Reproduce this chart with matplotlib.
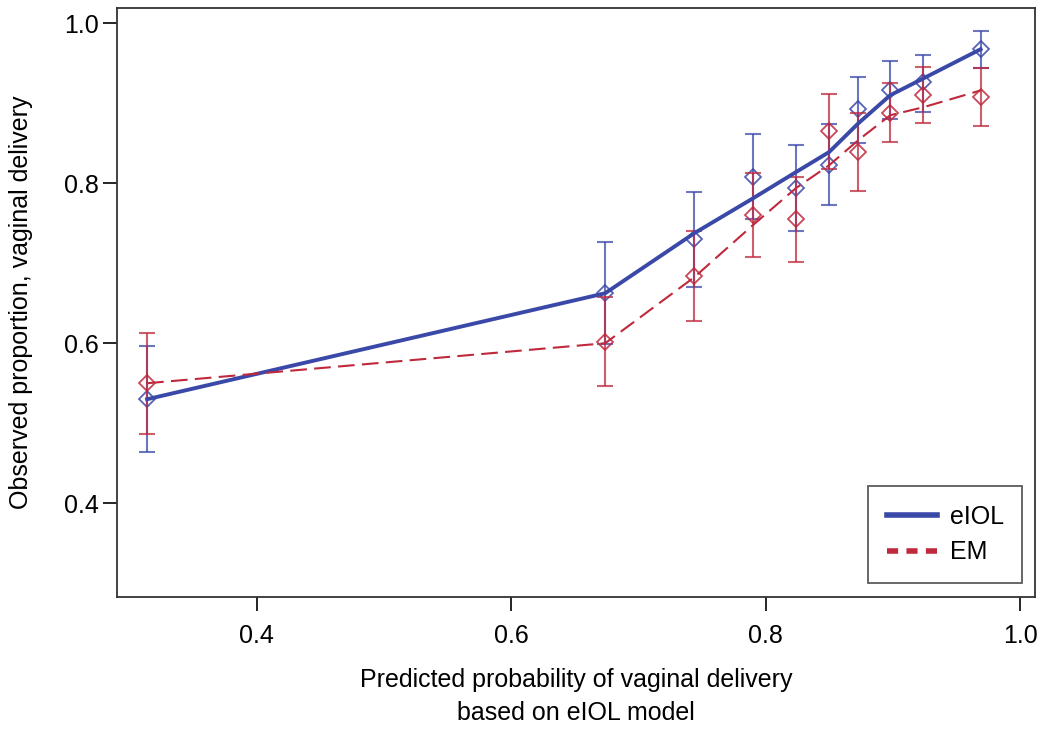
import numpy as np
import matplotlib.pyplot as plt
from matplotlib.lines import Line2D

plt.rcParams['font.family'] = ['Liberation Sans', 'DejaVu Sans']

# predicted probability bins (eIOL model)
pred = [0.314, 0.674, 0.744, 0.790, 0.824, 0.850, 0.873, 0.898, 0.924, 0.969]

# eIOL: observed proportion, CI, fitted line
eiol_obs = [0.530, 0.6625, 0.730, 0.8075, 0.794, 0.823, 0.8925, 0.916, 0.926, 0.9675]
eiol_lo = [0.464, 0.599, 0.670, 0.755, 0.740, 0.7725, 0.850, 0.880, 0.889, 0.944]
eiol_hi = [0.596, 0.726, 0.789, 0.861, 0.8475, 0.874, 0.9325, 0.9525, 0.960, 0.990]
eiol_fit = [0.530, 0.6625, 0.7375, 0.781, 0.814, 0.839, 0.875, 0.910, 0.931, 0.9675]

# EM: observed proportion, CI, fitted line
em_obs = [0.550, 0.601, 0.684, 0.760, 0.755, 0.865, 0.839, 0.8875, 0.910, 0.9075]
em_lo = [0.486, 0.546, 0.628, 0.7075, 0.701, 0.818, 0.790, 0.851, 0.875, 0.871]
em_hi = [0.6125, 0.658, 0.740, 0.8125, 0.8075, 0.911, 0.8875, 0.925, 0.945, 0.944]
em_fit = [0.550, 0.600, 0.6825, 0.7475, 0.794, 0.8225, 0.854, 0.885, 0.895, 0.916]

BLUE = '#3a48a8'
RED = '#c0283c'

fig = plt.figure(figsize=(10.5, 7.31), dpi=100)
ax = fig.add_axes([0.111, 0.183, 0.875, 0.806])

pred = np.array(pred)
for obs, lo, hi, col in [(eiol_obs, eiol_lo, eiol_hi, BLUE), (em_obs, em_lo, em_hi, RED)]:
    obs, lo, hi = np.array(obs), np.array(lo), np.array(hi)
    ax.errorbar(pred, obs, yerr=[obs - lo, hi - obs], fmt='none',
                ecolor=col, elinewidth=1.5, capsize=6, capthick=1.5, alpha=0.75)
    ax.plot(pred, obs, linestyle='none', marker='D', markersize=8,
            markerfacecolor='none', markeredgecolor=col, markeredgewidth=1.3, alpha=0.85)

ax.plot(pred, eiol_fit, color=BLUE, linewidth=2.8, label='eIOL')
ax.plot(pred, em_fit, color=RED, linewidth=1.5, dashes=(8, 3.5), label='EM')

ax.set_xlim(0.29, 1.012)
ax.set_ylim(0.2825, 1.019)
ax.set_xticks([0.4, 0.6, 0.8, 1.0])
ax.set_yticks([0.4, 0.6, 0.8, 1.0])
ax.set_xticklabels(['0.4', '0.6', '0.8', '1.0'])
ax.set_yticklabels(['0.4', '0.6', '0.8', '1.0'])
ax.tick_params(direction='out', length=10, width=1.2, labelsize=18)
ax.tick_params(axis='x', pad=9)
ax.tick_params(axis='y', pad=3)
for s in ax.spines.values():
    s.set_linewidth(1.3)
    s.set_color('#333333')

ax.set_xlabel('Predicted probability of vaginal delivery\nbased on eIOL model',
              fontsize=18, labelpad=15, linespacing=1.45)
ax.set_ylabel('Observed proportion, vaginal delivery', fontsize=18, labelpad=22)

# legend handles: thick lines as in the reference
handles = [Line2D([], [], color=BLUE, linewidth=4),
           Line2D([], [], color=RED, linewidth=4, dashes=(2, 1.5))]
leg = ax.legend(handles, ['eIOL', 'EM'], loc='lower right', fontsize=18,
                frameon=True, fancybox=False, edgecolor='#333333',
                handlelength=2.0, handletextpad=0.5, borderpad=0.75,
                labelspacing=0.45, borderaxespad=0,
                bbox_to_anchor=(0.986, 0.024))
leg.get_frame().set_linewidth(1.3)

fig.savefig('out.png', dpi=100)
